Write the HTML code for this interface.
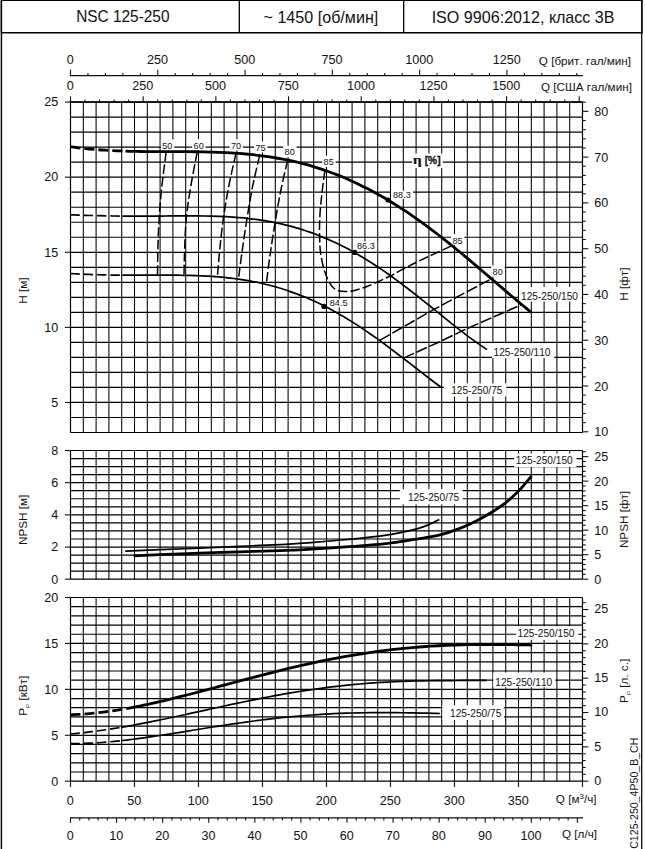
<!DOCTYPE html>
<html><head><meta charset="utf-8"><title>NSC 125-250</title>
<style>html,body{margin:0;padding:0;background:#fff;}body{width:645px;height:849px;overflow:hidden;font-family:"Liberation Sans",sans-serif;}svg{display:block}</style>
</head><body>
<svg width="645" height="849" viewBox="0 0 645 849" font-family="Liberation Sans, sans-serif" style="font-kerning:none">
<rect x="0" y="0" width="1" height="33" fill="#888"/>
<rect x="0" y="33" width="1" height="816" fill="#bbb"/>
<line x1="1.55" y1="0" x2="1.55" y2="849" stroke="#000" stroke-width="1.2" />
<line x1="641.9" y1="0" x2="641.9" y2="33.5" stroke="#000" stroke-width="1.7" />
<line x1="641.7" y1="33" x2="641.7" y2="849" stroke="#000" stroke-width="1.25" />
<line x1="1" y1="0.4" x2="642.7" y2="0.4" stroke="#000" stroke-width="1.2" />
<line x1="1" y1="32.8" x2="642.5" y2="32.8" stroke="#000" stroke-width="1.6" />
<line x1="239.3" y1="0" x2="239.3" y2="32.7" stroke="#000" stroke-width="1.3" />
<line x1="403.7" y1="0" x2="403.7" y2="32.7" stroke="#000" stroke-width="1.3" />
<text transform="translate(122.8,22.2) scale(0.94,1)" font-size="16.4" text-anchor="middle" fill="#111" >NSC 125-250</text>
<text transform="translate(320.9,23.4) scale(0.995,1)" font-size="16.2" text-anchor="middle" fill="#111" >~ 1450 [об/мин]</text>
<text transform="translate(523.1,23.1) scale(0.995,1)" font-size="16.2" text-anchor="middle" fill="#111" >ISO 9906:2012, класс 3В</text>
<g stroke="#000" stroke-width="1.2">
<line x1="70.5" y1="102.1" x2="70.5" y2="432.5" stroke-width="1.2"/>
<line x1="83.3" y1="102.1" x2="83.3" y2="432.5" stroke-width="1.05"/>
<line x1="96.1" y1="102.1" x2="96.1" y2="432.5" stroke-width="1.05"/>
<line x1="108.9" y1="102.1" x2="108.9" y2="432.5" stroke-width="1.05"/>
<line x1="121.7" y1="102.1" x2="121.7" y2="432.5" stroke-width="1.05"/>
<line x1="134.5" y1="102.1" x2="134.5" y2="432.5" stroke-width="1.05"/>
<line x1="147.3" y1="102.1" x2="147.3" y2="432.5" stroke-width="1.05"/>
<line x1="160.1" y1="102.1" x2="160.1" y2="432.5" stroke-width="1.05"/>
<line x1="172.9" y1="102.1" x2="172.9" y2="432.5" stroke-width="1.05"/>
<line x1="185.7" y1="102.1" x2="185.7" y2="432.5" stroke-width="1.05"/>
<line x1="198.5" y1="102.1" x2="198.5" y2="432.5" stroke-width="1.05"/>
<line x1="211.3" y1="102.1" x2="211.3" y2="432.5" stroke-width="1.05"/>
<line x1="224.1" y1="102.1" x2="224.1" y2="432.5" stroke-width="1.05"/>
<line x1="236.9" y1="102.1" x2="236.9" y2="432.5" stroke-width="1.05"/>
<line x1="249.7" y1="102.1" x2="249.7" y2="432.5" stroke-width="1.05"/>
<line x1="262.5" y1="102.1" x2="262.5" y2="432.5" stroke-width="1.05"/>
<line x1="275.3" y1="102.1" x2="275.3" y2="432.5" stroke-width="1.05"/>
<line x1="288.1" y1="102.1" x2="288.1" y2="432.5" stroke-width="1.05"/>
<line x1="300.9" y1="102.1" x2="300.9" y2="432.5" stroke-width="1.05"/>
<line x1="313.7" y1="102.1" x2="313.7" y2="432.5" stroke-width="1.05"/>
<line x1="326.5" y1="102.1" x2="326.5" y2="432.5" stroke-width="1.05"/>
<line x1="339.3" y1="102.1" x2="339.3" y2="432.5" stroke-width="1.05"/>
<line x1="352.1" y1="102.1" x2="352.1" y2="432.5" stroke-width="1.05"/>
<line x1="364.9" y1="102.1" x2="364.9" y2="432.5" stroke-width="1.05"/>
<line x1="377.7" y1="102.1" x2="377.7" y2="432.5" stroke-width="1.05"/>
<line x1="390.5" y1="102.1" x2="390.5" y2="432.5" stroke-width="1.05"/>
<line x1="403.3" y1="102.1" x2="403.3" y2="432.5" stroke-width="1.05"/>
<line x1="416.1" y1="102.1" x2="416.1" y2="432.5" stroke-width="1.05"/>
<line x1="428.9" y1="102.1" x2="428.9" y2="432.5" stroke-width="1.05"/>
<line x1="441.7" y1="102.1" x2="441.7" y2="432.5" stroke-width="1.05"/>
<line x1="454.5" y1="102.1" x2="454.5" y2="432.5" stroke-width="1.05"/>
<line x1="467.3" y1="102.1" x2="467.3" y2="432.5" stroke-width="1.05"/>
<line x1="480.1" y1="102.1" x2="480.1" y2="432.5" stroke-width="1.05"/>
<line x1="492.9" y1="102.1" x2="492.9" y2="432.5" stroke-width="1.05"/>
<line x1="505.7" y1="102.1" x2="505.7" y2="432.5" stroke-width="1.05"/>
<line x1="518.5" y1="102.1" x2="518.5" y2="432.5" stroke-width="1.05"/>
<line x1="531.3" y1="102.1" x2="531.3" y2="432.5" stroke-width="1.05"/>
<line x1="544.1" y1="102.1" x2="544.1" y2="432.5" stroke-width="1.05"/>
<line x1="556.9" y1="102.1" x2="556.9" y2="432.5" stroke-width="1.05"/>
<line x1="569.7" y1="102.1" x2="569.7" y2="432.5" stroke-width="1.05"/>
<line x1="582.5" y1="102.1" x2="582.5" y2="432.5" stroke-width="1.2"/>
<line x1="70.5" y1="102.1" x2="582.5" y2="102.1"/>
<line x1="70.5" y1="117.12" x2="582.5" y2="117.12"/>
<line x1="70.5" y1="132.14" x2="582.5" y2="132.14"/>
<line x1="70.5" y1="147.15" x2="582.5" y2="147.15"/>
<line x1="70.5" y1="162.17" x2="582.5" y2="162.17"/>
<line x1="70.5" y1="177.19" x2="582.5" y2="177.19"/>
<line x1="70.5" y1="192.21" x2="582.5" y2="192.21"/>
<line x1="70.5" y1="207.23" x2="582.5" y2="207.23"/>
<line x1="70.5" y1="222.25" x2="582.5" y2="222.25"/>
<line x1="70.5" y1="237.26" x2="582.5" y2="237.26"/>
<line x1="70.5" y1="252.28" x2="582.5" y2="252.28"/>
<line x1="70.5" y1="267.3" x2="582.5" y2="267.3"/>
<line x1="70.5" y1="282.32" x2="582.5" y2="282.32"/>
<line x1="70.5" y1="297.34" x2="582.5" y2="297.34"/>
<line x1="70.5" y1="312.35" x2="582.5" y2="312.35"/>
<line x1="70.5" y1="327.37" x2="582.5" y2="327.37"/>
<line x1="70.5" y1="342.39" x2="582.5" y2="342.39"/>
<line x1="70.5" y1="357.41" x2="582.5" y2="357.41"/>
<line x1="70.5" y1="372.43" x2="582.5" y2="372.43"/>
<line x1="70.5" y1="387.45" x2="582.5" y2="387.45"/>
<line x1="70.5" y1="402.46" x2="582.5" y2="402.46"/>
<line x1="70.5" y1="417.48" x2="582.5" y2="417.48"/>
<line x1="70.5" y1="432.5" x2="582.5" y2="432.5"/>
</g>
<g stroke="#000" stroke-width="1.2">
<line x1="70.5" y1="450.5" x2="70.5" y2="579.2" stroke-width="1.2"/>
<line x1="83.3" y1="450.5" x2="83.3" y2="579.2" stroke-width="1.05"/>
<line x1="96.1" y1="450.5" x2="96.1" y2="579.2" stroke-width="1.05"/>
<line x1="108.9" y1="450.5" x2="108.9" y2="579.2" stroke-width="1.05"/>
<line x1="121.7" y1="450.5" x2="121.7" y2="579.2" stroke-width="1.05"/>
<line x1="134.5" y1="450.5" x2="134.5" y2="579.2" stroke-width="1.05"/>
<line x1="147.3" y1="450.5" x2="147.3" y2="579.2" stroke-width="1.05"/>
<line x1="160.1" y1="450.5" x2="160.1" y2="579.2" stroke-width="1.05"/>
<line x1="172.9" y1="450.5" x2="172.9" y2="579.2" stroke-width="1.05"/>
<line x1="185.7" y1="450.5" x2="185.7" y2="579.2" stroke-width="1.05"/>
<line x1="198.5" y1="450.5" x2="198.5" y2="579.2" stroke-width="1.05"/>
<line x1="211.3" y1="450.5" x2="211.3" y2="579.2" stroke-width="1.05"/>
<line x1="224.1" y1="450.5" x2="224.1" y2="579.2" stroke-width="1.05"/>
<line x1="236.9" y1="450.5" x2="236.9" y2="579.2" stroke-width="1.05"/>
<line x1="249.7" y1="450.5" x2="249.7" y2="579.2" stroke-width="1.05"/>
<line x1="262.5" y1="450.5" x2="262.5" y2="579.2" stroke-width="1.05"/>
<line x1="275.3" y1="450.5" x2="275.3" y2="579.2" stroke-width="1.05"/>
<line x1="288.1" y1="450.5" x2="288.1" y2="579.2" stroke-width="1.05"/>
<line x1="300.9" y1="450.5" x2="300.9" y2="579.2" stroke-width="1.05"/>
<line x1="313.7" y1="450.5" x2="313.7" y2="579.2" stroke-width="1.05"/>
<line x1="326.5" y1="450.5" x2="326.5" y2="579.2" stroke-width="1.05"/>
<line x1="339.3" y1="450.5" x2="339.3" y2="579.2" stroke-width="1.05"/>
<line x1="352.1" y1="450.5" x2="352.1" y2="579.2" stroke-width="1.05"/>
<line x1="364.9" y1="450.5" x2="364.9" y2="579.2" stroke-width="1.05"/>
<line x1="377.7" y1="450.5" x2="377.7" y2="579.2" stroke-width="1.05"/>
<line x1="390.5" y1="450.5" x2="390.5" y2="579.2" stroke-width="1.05"/>
<line x1="403.3" y1="450.5" x2="403.3" y2="579.2" stroke-width="1.05"/>
<line x1="416.1" y1="450.5" x2="416.1" y2="579.2" stroke-width="1.05"/>
<line x1="428.9" y1="450.5" x2="428.9" y2="579.2" stroke-width="1.05"/>
<line x1="441.7" y1="450.5" x2="441.7" y2="579.2" stroke-width="1.05"/>
<line x1="454.5" y1="450.5" x2="454.5" y2="579.2" stroke-width="1.05"/>
<line x1="467.3" y1="450.5" x2="467.3" y2="579.2" stroke-width="1.05"/>
<line x1="480.1" y1="450.5" x2="480.1" y2="579.2" stroke-width="1.05"/>
<line x1="492.9" y1="450.5" x2="492.9" y2="579.2" stroke-width="1.05"/>
<line x1="505.7" y1="450.5" x2="505.7" y2="579.2" stroke-width="1.05"/>
<line x1="518.5" y1="450.5" x2="518.5" y2="579.2" stroke-width="1.05"/>
<line x1="531.3" y1="450.5" x2="531.3" y2="579.2" stroke-width="1.05"/>
<line x1="544.1" y1="450.5" x2="544.1" y2="579.2" stroke-width="1.05"/>
<line x1="556.9" y1="450.5" x2="556.9" y2="579.2" stroke-width="1.05"/>
<line x1="569.7" y1="450.5" x2="569.7" y2="579.2" stroke-width="1.05"/>
<line x1="582.5" y1="450.5" x2="582.5" y2="579.2" stroke-width="1.2"/>
<line x1="70.5" y1="450.5" x2="582.5" y2="450.5"/>
<line x1="70.5" y1="458.54" x2="582.5" y2="458.54"/>
<line x1="70.5" y1="466.59" x2="582.5" y2="466.59"/>
<line x1="70.5" y1="474.63" x2="582.5" y2="474.63"/>
<line x1="70.5" y1="482.68" x2="582.5" y2="482.68"/>
<line x1="70.5" y1="490.72" x2="582.5" y2="490.72"/>
<line x1="70.5" y1="498.76" x2="582.5" y2="498.76"/>
<line x1="70.5" y1="506.81" x2="582.5" y2="506.81"/>
<line x1="70.5" y1="514.85" x2="582.5" y2="514.85"/>
<line x1="70.5" y1="522.89" x2="582.5" y2="522.89"/>
<line x1="70.5" y1="530.94" x2="582.5" y2="530.94"/>
<line x1="70.5" y1="538.98" x2="582.5" y2="538.98"/>
<line x1="70.5" y1="547.03" x2="582.5" y2="547.03"/>
<line x1="70.5" y1="555.07" x2="582.5" y2="555.07"/>
<line x1="70.5" y1="563.11" x2="582.5" y2="563.11"/>
<line x1="70.5" y1="571.16" x2="582.5" y2="571.16"/>
<line x1="70.5" y1="579.2" x2="582.5" y2="579.2"/>
</g>
<g stroke="#000" stroke-width="1.2">
<line x1="70.5" y1="597.5" x2="70.5" y2="781.2" stroke-width="1.2"/>
<line x1="83.3" y1="597.5" x2="83.3" y2="781.2" stroke-width="1.05"/>
<line x1="96.1" y1="597.5" x2="96.1" y2="781.2" stroke-width="1.05"/>
<line x1="108.9" y1="597.5" x2="108.9" y2="781.2" stroke-width="1.05"/>
<line x1="121.7" y1="597.5" x2="121.7" y2="781.2" stroke-width="1.05"/>
<line x1="134.5" y1="597.5" x2="134.5" y2="781.2" stroke-width="1.05"/>
<line x1="147.3" y1="597.5" x2="147.3" y2="781.2" stroke-width="1.05"/>
<line x1="160.1" y1="597.5" x2="160.1" y2="781.2" stroke-width="1.05"/>
<line x1="172.9" y1="597.5" x2="172.9" y2="781.2" stroke-width="1.05"/>
<line x1="185.7" y1="597.5" x2="185.7" y2="781.2" stroke-width="1.05"/>
<line x1="198.5" y1="597.5" x2="198.5" y2="781.2" stroke-width="1.05"/>
<line x1="211.3" y1="597.5" x2="211.3" y2="781.2" stroke-width="1.05"/>
<line x1="224.1" y1="597.5" x2="224.1" y2="781.2" stroke-width="1.05"/>
<line x1="236.9" y1="597.5" x2="236.9" y2="781.2" stroke-width="1.05"/>
<line x1="249.7" y1="597.5" x2="249.7" y2="781.2" stroke-width="1.05"/>
<line x1="262.5" y1="597.5" x2="262.5" y2="781.2" stroke-width="1.05"/>
<line x1="275.3" y1="597.5" x2="275.3" y2="781.2" stroke-width="1.05"/>
<line x1="288.1" y1="597.5" x2="288.1" y2="781.2" stroke-width="1.05"/>
<line x1="300.9" y1="597.5" x2="300.9" y2="781.2" stroke-width="1.05"/>
<line x1="313.7" y1="597.5" x2="313.7" y2="781.2" stroke-width="1.05"/>
<line x1="326.5" y1="597.5" x2="326.5" y2="781.2" stroke-width="1.05"/>
<line x1="339.3" y1="597.5" x2="339.3" y2="781.2" stroke-width="1.05"/>
<line x1="352.1" y1="597.5" x2="352.1" y2="781.2" stroke-width="1.05"/>
<line x1="364.9" y1="597.5" x2="364.9" y2="781.2" stroke-width="1.05"/>
<line x1="377.7" y1="597.5" x2="377.7" y2="781.2" stroke-width="1.05"/>
<line x1="390.5" y1="597.5" x2="390.5" y2="781.2" stroke-width="1.05"/>
<line x1="403.3" y1="597.5" x2="403.3" y2="781.2" stroke-width="1.05"/>
<line x1="416.1" y1="597.5" x2="416.1" y2="781.2" stroke-width="1.05"/>
<line x1="428.9" y1="597.5" x2="428.9" y2="781.2" stroke-width="1.05"/>
<line x1="441.7" y1="597.5" x2="441.7" y2="781.2" stroke-width="1.05"/>
<line x1="454.5" y1="597.5" x2="454.5" y2="781.2" stroke-width="1.05"/>
<line x1="467.3" y1="597.5" x2="467.3" y2="781.2" stroke-width="1.05"/>
<line x1="480.1" y1="597.5" x2="480.1" y2="781.2" stroke-width="1.05"/>
<line x1="492.9" y1="597.5" x2="492.9" y2="781.2" stroke-width="1.05"/>
<line x1="505.7" y1="597.5" x2="505.7" y2="781.2" stroke-width="1.05"/>
<line x1="518.5" y1="597.5" x2="518.5" y2="781.2" stroke-width="1.05"/>
<line x1="531.3" y1="597.5" x2="531.3" y2="781.2" stroke-width="1.05"/>
<line x1="544.1" y1="597.5" x2="544.1" y2="781.2" stroke-width="1.05"/>
<line x1="556.9" y1="597.5" x2="556.9" y2="781.2" stroke-width="1.05"/>
<line x1="569.7" y1="597.5" x2="569.7" y2="781.2" stroke-width="1.05"/>
<line x1="582.5" y1="597.5" x2="582.5" y2="781.2" stroke-width="1.2"/>
<line x1="70.5" y1="597.5" x2="582.5" y2="597.5"/>
<line x1="70.5" y1="606.68" x2="582.5" y2="606.68"/>
<line x1="70.5" y1="615.87" x2="582.5" y2="615.87"/>
<line x1="70.5" y1="625.06" x2="582.5" y2="625.06"/>
<line x1="70.5" y1="634.24" x2="582.5" y2="634.24"/>
<line x1="70.5" y1="643.42" x2="582.5" y2="643.42"/>
<line x1="70.5" y1="652.61" x2="582.5" y2="652.61"/>
<line x1="70.5" y1="661.8" x2="582.5" y2="661.8"/>
<line x1="70.5" y1="670.98" x2="582.5" y2="670.98"/>
<line x1="70.5" y1="680.16" x2="582.5" y2="680.16"/>
<line x1="70.5" y1="689.35" x2="582.5" y2="689.35"/>
<line x1="70.5" y1="698.54" x2="582.5" y2="698.54"/>
<line x1="70.5" y1="707.72" x2="582.5" y2="707.72"/>
<line x1="70.5" y1="716.9" x2="582.5" y2="716.9"/>
<line x1="70.5" y1="726.09" x2="582.5" y2="726.09"/>
<line x1="70.5" y1="735.28" x2="582.5" y2="735.28"/>
<line x1="70.5" y1="744.46" x2="582.5" y2="744.46"/>
<line x1="70.5" y1="753.64" x2="582.5" y2="753.64"/>
<line x1="70.5" y1="762.83" x2="582.5" y2="762.83"/>
<line x1="70.5" y1="772.02" x2="582.5" y2="772.02"/>
<line x1="70.5" y1="781.2" x2="582.5" y2="781.2"/>
</g>
<rect x="160.8" y="139.4" width="13.4" height="11.2" fill="#fff"/>
<rect x="192.2" y="139.1" width="13.4" height="11.2" fill="#fff"/>
<rect x="229.5" y="139.3" width="13.4" height="11.2" fill="#fff"/>
<rect x="254.1" y="141.3" width="13.4" height="11.2" fill="#fff"/>
<rect x="283.2" y="145.8" width="13.4" height="11.2" fill="#fff"/>
<rect x="322.2" y="155.6" width="13.4" height="11.2" fill="#fff"/>
<rect x="391" y="190.7" width="22" height="8.2" fill="#fff"/>
<rect x="355.2" y="241.4" width="22" height="8.6" fill="#fff"/>
<rect x="328" y="298.8" width="22" height="8.6" fill="#fff"/>
<rect x="451" y="234" width="13.4" height="11.2" fill="#fff"/>
<rect x="491.2" y="265.4" width="13.4" height="11.2" fill="#fff"/>
<rect x="412.1" y="153.6" width="30.7" height="14.4" fill="#fff"/>
<rect x="519" y="286.9" width="62.7" height="14.6" fill="#fff"/>
<rect x="492" y="343.3" width="62.3" height="14.8" fill="#fff"/>
<rect x="444" y="383.3" width="62.5" height="13.2" fill="#fff"/>
<rect x="399.8" y="489.1" width="62.8" height="15.3" fill="#fff"/>
<rect x="514" y="453.5" width="62.4" height="13.5" fill="#fff"/>
<rect x="516.2" y="626.2" width="62.1" height="13.6" fill="#fff"/>
<rect x="493.3" y="672.6" width="62" height="14.6" fill="#fff"/>
<rect x="442.4" y="705.3" width="61.6" height="14.7" fill="#fff"/>
<line x1="70" y1="75.7" x2="583" y2="75.7" stroke="#111" stroke-width="1.2" />
<line x1="70.5" y1="75.7" x2="70.5" y2="69.7" stroke="#111" stroke-width="1.1" />
<text transform="translate(70.2,64.3) scale(1.05,1)" font-size="12" text-anchor="middle" fill="#111" >0</text>
<line x1="87.96" y1="75.7" x2="87.96" y2="72.9" stroke="#111" stroke-width="1.1" />
<line x1="105.41" y1="75.7" x2="105.41" y2="72.9" stroke="#111" stroke-width="1.1" />
<line x1="122.87" y1="75.7" x2="122.87" y2="72.9" stroke="#111" stroke-width="1.1" />
<line x1="140.33" y1="75.7" x2="140.33" y2="72.9" stroke="#111" stroke-width="1.1" />
<line x1="157.79" y1="75.7" x2="157.79" y2="69.7" stroke="#111" stroke-width="1.1" />
<text transform="translate(157.49,64.3) scale(1.05,1)" font-size="12" text-anchor="middle" fill="#111" >250</text>
<line x1="175.24" y1="75.7" x2="175.24" y2="72.9" stroke="#111" stroke-width="1.1" />
<line x1="192.7" y1="75.7" x2="192.7" y2="72.9" stroke="#111" stroke-width="1.1" />
<line x1="210.16" y1="75.7" x2="210.16" y2="72.9" stroke="#111" stroke-width="1.1" />
<line x1="227.61" y1="75.7" x2="227.61" y2="72.9" stroke="#111" stroke-width="1.1" />
<line x1="245.07" y1="75.7" x2="245.07" y2="69.7" stroke="#111" stroke-width="1.1" />
<text transform="translate(244.77,64.3) scale(1.05,1)" font-size="12" text-anchor="middle" fill="#111" >500</text>
<line x1="262.53" y1="75.7" x2="262.53" y2="72.9" stroke="#111" stroke-width="1.1" />
<line x1="279.98" y1="75.7" x2="279.98" y2="72.9" stroke="#111" stroke-width="1.1" />
<line x1="297.44" y1="75.7" x2="297.44" y2="72.9" stroke="#111" stroke-width="1.1" />
<line x1="314.9" y1="75.7" x2="314.9" y2="72.9" stroke="#111" stroke-width="1.1" />
<line x1="332.36" y1="75.7" x2="332.36" y2="69.7" stroke="#111" stroke-width="1.1" />
<text transform="translate(332.06,64.3) scale(1.05,1)" font-size="12" text-anchor="middle" fill="#111" >750</text>
<line x1="349.81" y1="75.7" x2="349.81" y2="72.9" stroke="#111" stroke-width="1.1" />
<line x1="367.27" y1="75.7" x2="367.27" y2="72.9" stroke="#111" stroke-width="1.1" />
<line x1="384.73" y1="75.7" x2="384.73" y2="72.9" stroke="#111" stroke-width="1.1" />
<line x1="402.18" y1="75.7" x2="402.18" y2="72.9" stroke="#111" stroke-width="1.1" />
<line x1="419.64" y1="75.7" x2="419.64" y2="69.7" stroke="#111" stroke-width="1.1" />
<text transform="translate(419.34,64.3) scale(1.05,1)" font-size="12" text-anchor="middle" fill="#111" >1000</text>
<line x1="437.1" y1="75.7" x2="437.1" y2="72.9" stroke="#111" stroke-width="1.1" />
<line x1="454.55" y1="75.7" x2="454.55" y2="72.9" stroke="#111" stroke-width="1.1" />
<line x1="472.01" y1="75.7" x2="472.01" y2="72.9" stroke="#111" stroke-width="1.1" />
<line x1="489.47" y1="75.7" x2="489.47" y2="72.9" stroke="#111" stroke-width="1.1" />
<line x1="506.93" y1="75.7" x2="506.93" y2="69.7" stroke="#111" stroke-width="1.1" />
<text transform="translate(506.63,64.3) scale(1.05,1)" font-size="12" text-anchor="middle" fill="#111" >1250</text>
<line x1="524.38" y1="75.7" x2="524.38" y2="72.9" stroke="#111" stroke-width="1.1" />
<line x1="541.84" y1="75.7" x2="541.84" y2="72.9" stroke="#111" stroke-width="1.1" />
<line x1="559.3" y1="75.7" x2="559.3" y2="72.9" stroke="#111" stroke-width="1.1" />
<line x1="576.75" y1="75.7" x2="576.75" y2="72.9" stroke="#111" stroke-width="1.1" />
<line x1="69.9" y1="101.95" x2="583.1" y2="101.95" stroke="#000" stroke-width="1.5" />
<line x1="70.5" y1="102.1" x2="70.5" y2="96.3" stroke="#111" stroke-width="1.1" />
<text transform="translate(70.2,90.3) scale(1.05,1)" font-size="12" text-anchor="middle" fill="#111" >0</text>
<line x1="85.04" y1="102.1" x2="85.04" y2="99.5" stroke="#111" stroke-width="1.1" />
<line x1="99.57" y1="102.1" x2="99.57" y2="99.5" stroke="#111" stroke-width="1.1" />
<line x1="114.11" y1="102.1" x2="114.11" y2="99.5" stroke="#111" stroke-width="1.1" />
<line x1="128.64" y1="102.1" x2="128.64" y2="99.5" stroke="#111" stroke-width="1.1" />
<line x1="143.18" y1="102.1" x2="143.18" y2="96.3" stroke="#111" stroke-width="1.1" />
<text transform="translate(142.88,90.3) scale(1.05,1)" font-size="12" text-anchor="middle" fill="#111" >250</text>
<line x1="157.72" y1="102.1" x2="157.72" y2="99.5" stroke="#111" stroke-width="1.1" />
<line x1="172.25" y1="102.1" x2="172.25" y2="99.5" stroke="#111" stroke-width="1.1" />
<line x1="186.79" y1="102.1" x2="186.79" y2="99.5" stroke="#111" stroke-width="1.1" />
<line x1="201.32" y1="102.1" x2="201.32" y2="99.5" stroke="#111" stroke-width="1.1" />
<line x1="215.86" y1="102.1" x2="215.86" y2="96.3" stroke="#111" stroke-width="1.1" />
<text transform="translate(215.56,90.3) scale(1.05,1)" font-size="12" text-anchor="middle" fill="#111" >500</text>
<line x1="230.4" y1="102.1" x2="230.4" y2="99.5" stroke="#111" stroke-width="1.1" />
<line x1="244.93" y1="102.1" x2="244.93" y2="99.5" stroke="#111" stroke-width="1.1" />
<line x1="259.47" y1="102.1" x2="259.47" y2="99.5" stroke="#111" stroke-width="1.1" />
<line x1="274" y1="102.1" x2="274" y2="99.5" stroke="#111" stroke-width="1.1" />
<line x1="288.54" y1="102.1" x2="288.54" y2="96.3" stroke="#111" stroke-width="1.1" />
<text transform="translate(288.24,90.3) scale(1.05,1)" font-size="12" text-anchor="middle" fill="#111" >750</text>
<line x1="303.08" y1="102.1" x2="303.08" y2="99.5" stroke="#111" stroke-width="1.1" />
<line x1="317.61" y1="102.1" x2="317.61" y2="99.5" stroke="#111" stroke-width="1.1" />
<line x1="332.15" y1="102.1" x2="332.15" y2="99.5" stroke="#111" stroke-width="1.1" />
<line x1="346.68" y1="102.1" x2="346.68" y2="99.5" stroke="#111" stroke-width="1.1" />
<line x1="361.22" y1="102.1" x2="361.22" y2="96.3" stroke="#111" stroke-width="1.1" />
<text transform="translate(360.92,90.3) scale(1.05,1)" font-size="12" text-anchor="middle" fill="#111" >1000</text>
<line x1="375.76" y1="102.1" x2="375.76" y2="99.5" stroke="#111" stroke-width="1.1" />
<line x1="390.29" y1="102.1" x2="390.29" y2="99.5" stroke="#111" stroke-width="1.1" />
<line x1="404.83" y1="102.1" x2="404.83" y2="99.5" stroke="#111" stroke-width="1.1" />
<line x1="419.36" y1="102.1" x2="419.36" y2="99.5" stroke="#111" stroke-width="1.1" />
<line x1="433.9" y1="102.1" x2="433.9" y2="96.3" stroke="#111" stroke-width="1.1" />
<text transform="translate(433.6,90.3) scale(1.05,1)" font-size="12" text-anchor="middle" fill="#111" >1250</text>
<line x1="448.44" y1="102.1" x2="448.44" y2="99.5" stroke="#111" stroke-width="1.1" />
<line x1="462.97" y1="102.1" x2="462.97" y2="99.5" stroke="#111" stroke-width="1.1" />
<line x1="477.51" y1="102.1" x2="477.51" y2="99.5" stroke="#111" stroke-width="1.1" />
<line x1="492.04" y1="102.1" x2="492.04" y2="99.5" stroke="#111" stroke-width="1.1" />
<line x1="506.58" y1="102.1" x2="506.58" y2="96.3" stroke="#111" stroke-width="1.1" />
<text transform="translate(506.28,90.3) scale(1.05,1)" font-size="12" text-anchor="middle" fill="#111" >1500</text>
<line x1="521.12" y1="102.1" x2="521.12" y2="99.5" stroke="#111" stroke-width="1.1" />
<line x1="535.65" y1="102.1" x2="535.65" y2="99.5" stroke="#111" stroke-width="1.1" />
<line x1="550.19" y1="102.1" x2="550.19" y2="99.5" stroke="#111" stroke-width="1.1" />
<line x1="564.72" y1="102.1" x2="564.72" y2="99.5" stroke="#111" stroke-width="1.1" />
<line x1="579.26" y1="102.1" x2="579.26" y2="96.3" stroke="#111" stroke-width="1.1" />
<text transform="translate(538.8,64.8) scale(1.064,1)" font-size="11" text-anchor="start" fill="#111" >Q [брит. гал/мин]</text>
<text transform="translate(541,90.9) scale(1.064,1)" font-size="11" text-anchor="start" fill="#111" >Q [США гал/мин]</text>
<line x1="64.9" y1="102.1" x2="70.5" y2="102.1" stroke="#111" stroke-width="1.1" />
<text transform="translate(58.2,106.4) scale(1.05,1)" font-size="12" text-anchor="end" fill="#111" >25</text>
<line x1="64.9" y1="177.19" x2="70.5" y2="177.19" stroke="#111" stroke-width="1.1" />
<text transform="translate(58.2,181.49) scale(1.05,1)" font-size="12" text-anchor="end" fill="#111" >20</text>
<line x1="64.9" y1="252.28" x2="70.5" y2="252.28" stroke="#111" stroke-width="1.1" />
<text transform="translate(58.2,256.58) scale(1.05,1)" font-size="12" text-anchor="end" fill="#111" >15</text>
<line x1="64.9" y1="327.37" x2="70.5" y2="327.37" stroke="#111" stroke-width="1.1" />
<text transform="translate(58.2,331.67) scale(1.05,1)" font-size="12" text-anchor="end" fill="#111" >10</text>
<line x1="64.9" y1="402.46" x2="70.5" y2="402.46" stroke="#111" stroke-width="1.1" />
<text transform="translate(58.2,406.76) scale(1.05,1)" font-size="12" text-anchor="end" fill="#111" >5</text>
<line x1="64.9" y1="450.5" x2="70.5" y2="450.5" stroke="#111" stroke-width="1.1" />
<text transform="translate(58.2,454.8) scale(1.05,1)" font-size="12" text-anchor="end" fill="#111" >8</text>
<line x1="64.9" y1="482.68" x2="70.5" y2="482.68" stroke="#111" stroke-width="1.1" />
<text transform="translate(58.2,486.98) scale(1.05,1)" font-size="12" text-anchor="end" fill="#111" >6</text>
<line x1="64.9" y1="514.85" x2="70.5" y2="514.85" stroke="#111" stroke-width="1.1" />
<text transform="translate(58.2,519.15) scale(1.05,1)" font-size="12" text-anchor="end" fill="#111" >4</text>
<line x1="64.9" y1="547.03" x2="70.5" y2="547.03" stroke="#111" stroke-width="1.1" />
<text transform="translate(58.2,551.33) scale(1.05,1)" font-size="12" text-anchor="end" fill="#111" >2</text>
<line x1="64.9" y1="579.2" x2="70.5" y2="579.2" stroke="#111" stroke-width="1.1" />
<text transform="translate(58.2,583.5) scale(1.05,1)" font-size="12" text-anchor="end" fill="#111" >0</text>
<line x1="64.9" y1="597.5" x2="70.5" y2="597.5" stroke="#111" stroke-width="1.1" />
<text transform="translate(58.2,601.8) scale(1.05,1)" font-size="12" text-anchor="end" fill="#111" >20</text>
<line x1="64.9" y1="643.42" x2="70.5" y2="643.42" stroke="#111" stroke-width="1.1" />
<text transform="translate(58.2,647.72) scale(1.05,1)" font-size="12" text-anchor="end" fill="#111" >15</text>
<line x1="64.9" y1="689.35" x2="70.5" y2="689.35" stroke="#111" stroke-width="1.1" />
<text transform="translate(58.2,693.65) scale(1.05,1)" font-size="12" text-anchor="end" fill="#111" >10</text>
<line x1="64.9" y1="735.28" x2="70.5" y2="735.28" stroke="#111" stroke-width="1.1" />
<text transform="translate(58.2,739.58) scale(1.05,1)" font-size="12" text-anchor="end" fill="#111" >5</text>
<line x1="64.9" y1="781.2" x2="70.5" y2="781.2" stroke="#111" stroke-width="1.1" />
<text transform="translate(58.2,785.5) scale(1.05,1)" font-size="12" text-anchor="end" fill="#111" >0</text>
<text transform="translate(26.8,290.7) rotate(-90) scale(1.064,1)" font-size="11" text-anchor="middle" fill="#111" >H [м]</text>
<text transform="translate(26.8,519.9) rotate(-90) scale(1.064,1)" font-size="11" text-anchor="middle" fill="#111" >NPSH [м]</text>
<text transform="translate(26.8,695.8) rotate(-90) scale(1.064,1)" font-size="11" text-anchor="middle" fill="#111" >P<tspan font-size="5.8" dy="3.6">P</tspan><tspan dy="-3.6"> [кВт]</tspan></text>
<line x1="582.5" y1="431.78" x2="588.3" y2="431.78" stroke="#111" stroke-width="1.1" />
<text transform="translate(594.3,436.28) scale(1.05,1)" font-size="12" text-anchor="start" fill="#111" >10</text>
<line x1="582.5" y1="422.62" x2="585.7" y2="422.62" stroke="#111" stroke-width="1.1" />
<line x1="582.5" y1="413.47" x2="585.7" y2="413.47" stroke="#111" stroke-width="1.1" />
<line x1="582.5" y1="404.31" x2="585.7" y2="404.31" stroke="#111" stroke-width="1.1" />
<line x1="582.5" y1="395.16" x2="585.7" y2="395.16" stroke="#111" stroke-width="1.1" />
<line x1="582.5" y1="386" x2="588.3" y2="386" stroke="#111" stroke-width="1.1" />
<text transform="translate(594.3,390.5) scale(1.05,1)" font-size="12" text-anchor="start" fill="#111" >20</text>
<line x1="582.5" y1="376.85" x2="585.7" y2="376.85" stroke="#111" stroke-width="1.1" />
<line x1="582.5" y1="367.69" x2="585.7" y2="367.69" stroke="#111" stroke-width="1.1" />
<line x1="582.5" y1="358.54" x2="585.7" y2="358.54" stroke="#111" stroke-width="1.1" />
<line x1="582.5" y1="349.38" x2="585.7" y2="349.38" stroke="#111" stroke-width="1.1" />
<line x1="582.5" y1="340.23" x2="588.3" y2="340.23" stroke="#111" stroke-width="1.1" />
<text transform="translate(594.3,344.73) scale(1.05,1)" font-size="12" text-anchor="start" fill="#111" >30</text>
<line x1="582.5" y1="331.07" x2="585.7" y2="331.07" stroke="#111" stroke-width="1.1" />
<line x1="582.5" y1="321.92" x2="585.7" y2="321.92" stroke="#111" stroke-width="1.1" />
<line x1="582.5" y1="312.76" x2="585.7" y2="312.76" stroke="#111" stroke-width="1.1" />
<line x1="582.5" y1="303.61" x2="585.7" y2="303.61" stroke="#111" stroke-width="1.1" />
<line x1="582.5" y1="294.45" x2="588.3" y2="294.45" stroke="#111" stroke-width="1.1" />
<text transform="translate(594.3,298.95) scale(1.05,1)" font-size="12" text-anchor="start" fill="#111" >40</text>
<line x1="582.5" y1="285.3" x2="585.7" y2="285.3" stroke="#111" stroke-width="1.1" />
<line x1="582.5" y1="276.14" x2="585.7" y2="276.14" stroke="#111" stroke-width="1.1" />
<line x1="582.5" y1="266.99" x2="585.7" y2="266.99" stroke="#111" stroke-width="1.1" />
<line x1="582.5" y1="257.83" x2="585.7" y2="257.83" stroke="#111" stroke-width="1.1" />
<line x1="582.5" y1="248.68" x2="588.3" y2="248.68" stroke="#111" stroke-width="1.1" />
<text transform="translate(594.3,253.18) scale(1.05,1)" font-size="12" text-anchor="start" fill="#111" >50</text>
<line x1="582.5" y1="239.52" x2="585.7" y2="239.52" stroke="#111" stroke-width="1.1" />
<line x1="582.5" y1="230.37" x2="585.7" y2="230.37" stroke="#111" stroke-width="1.1" />
<line x1="582.5" y1="221.21" x2="585.7" y2="221.21" stroke="#111" stroke-width="1.1" />
<line x1="582.5" y1="212.06" x2="585.7" y2="212.06" stroke="#111" stroke-width="1.1" />
<line x1="582.5" y1="202.9" x2="588.3" y2="202.9" stroke="#111" stroke-width="1.1" />
<text transform="translate(594.3,207.4) scale(1.05,1)" font-size="12" text-anchor="start" fill="#111" >60</text>
<line x1="582.5" y1="193.75" x2="585.7" y2="193.75" stroke="#111" stroke-width="1.1" />
<line x1="582.5" y1="184.59" x2="585.7" y2="184.59" stroke="#111" stroke-width="1.1" />
<line x1="582.5" y1="175.44" x2="585.7" y2="175.44" stroke="#111" stroke-width="1.1" />
<line x1="582.5" y1="166.28" x2="585.7" y2="166.28" stroke="#111" stroke-width="1.1" />
<line x1="582.5" y1="157.13" x2="588.3" y2="157.13" stroke="#111" stroke-width="1.1" />
<text transform="translate(594.3,161.63) scale(1.05,1)" font-size="12" text-anchor="start" fill="#111" >70</text>
<line x1="582.5" y1="147.97" x2="585.7" y2="147.97" stroke="#111" stroke-width="1.1" />
<line x1="582.5" y1="138.82" x2="585.7" y2="138.82" stroke="#111" stroke-width="1.1" />
<line x1="582.5" y1="129.66" x2="585.7" y2="129.66" stroke="#111" stroke-width="1.1" />
<line x1="582.5" y1="120.51" x2="585.7" y2="120.51" stroke="#111" stroke-width="1.1" />
<line x1="582.5" y1="111.35" x2="588.3" y2="111.35" stroke="#111" stroke-width="1.1" />
<text transform="translate(594.3,115.85) scale(1.05,1)" font-size="12" text-anchor="start" fill="#111" >80</text>
<line x1="582.5" y1="102.2" x2="585.7" y2="102.2" stroke="#111" stroke-width="1.1" />
<line x1="582.5" y1="579.2" x2="588.3" y2="579.2" stroke="#111" stroke-width="1.1" />
<text transform="translate(594.3,583.7) scale(1.05,1)" font-size="12" text-anchor="start" fill="#111" >0</text>
<line x1="582.5" y1="574.3" x2="585.7" y2="574.3" stroke="#111" stroke-width="1.1" />
<line x1="582.5" y1="569.39" x2="585.7" y2="569.39" stroke="#111" stroke-width="1.1" />
<line x1="582.5" y1="564.49" x2="585.7" y2="564.49" stroke="#111" stroke-width="1.1" />
<line x1="582.5" y1="559.59" x2="585.7" y2="559.59" stroke="#111" stroke-width="1.1" />
<line x1="582.5" y1="554.68" x2="588.3" y2="554.68" stroke="#111" stroke-width="1.1" />
<text transform="translate(594.3,559.18) scale(1.05,1)" font-size="12" text-anchor="start" fill="#111" >5</text>
<line x1="582.5" y1="549.78" x2="585.7" y2="549.78" stroke="#111" stroke-width="1.1" />
<line x1="582.5" y1="544.88" x2="585.7" y2="544.88" stroke="#111" stroke-width="1.1" />
<line x1="582.5" y1="539.97" x2="585.7" y2="539.97" stroke="#111" stroke-width="1.1" />
<line x1="582.5" y1="535.07" x2="585.7" y2="535.07" stroke="#111" stroke-width="1.1" />
<line x1="582.5" y1="530.17" x2="588.3" y2="530.17" stroke="#111" stroke-width="1.1" />
<text transform="translate(594.3,534.67) scale(1.05,1)" font-size="12" text-anchor="start" fill="#111" >10</text>
<line x1="582.5" y1="525.26" x2="585.7" y2="525.26" stroke="#111" stroke-width="1.1" />
<line x1="582.5" y1="520.36" x2="585.7" y2="520.36" stroke="#111" stroke-width="1.1" />
<line x1="582.5" y1="515.45" x2="585.7" y2="515.45" stroke="#111" stroke-width="1.1" />
<line x1="582.5" y1="510.55" x2="585.7" y2="510.55" stroke="#111" stroke-width="1.1" />
<line x1="582.5" y1="505.65" x2="588.3" y2="505.65" stroke="#111" stroke-width="1.1" />
<text transform="translate(594.3,510.15) scale(1.05,1)" font-size="12" text-anchor="start" fill="#111" >15</text>
<line x1="582.5" y1="500.74" x2="585.7" y2="500.74" stroke="#111" stroke-width="1.1" />
<line x1="582.5" y1="495.84" x2="585.7" y2="495.84" stroke="#111" stroke-width="1.1" />
<line x1="582.5" y1="490.94" x2="585.7" y2="490.94" stroke="#111" stroke-width="1.1" />
<line x1="582.5" y1="486.03" x2="585.7" y2="486.03" stroke="#111" stroke-width="1.1" />
<line x1="582.5" y1="481.13" x2="588.3" y2="481.13" stroke="#111" stroke-width="1.1" />
<text transform="translate(594.3,485.63) scale(1.05,1)" font-size="12" text-anchor="start" fill="#111" >20</text>
<line x1="582.5" y1="476.23" x2="585.7" y2="476.23" stroke="#111" stroke-width="1.1" />
<line x1="582.5" y1="471.32" x2="585.7" y2="471.32" stroke="#111" stroke-width="1.1" />
<line x1="582.5" y1="466.42" x2="585.7" y2="466.42" stroke="#111" stroke-width="1.1" />
<line x1="582.5" y1="461.52" x2="585.7" y2="461.52" stroke="#111" stroke-width="1.1" />
<line x1="582.5" y1="456.61" x2="588.3" y2="456.61" stroke="#111" stroke-width="1.1" />
<text transform="translate(594.3,461.11) scale(1.05,1)" font-size="12" text-anchor="start" fill="#111" >25</text>
<line x1="582.5" y1="451.71" x2="585.7" y2="451.71" stroke="#111" stroke-width="1.1" />
<line x1="582.5" y1="781.2" x2="588.3" y2="781.2" stroke="#111" stroke-width="1.1" />
<text transform="translate(594.3,785.1) scale(1.05,1)" font-size="12" text-anchor="start" fill="#111" >0</text>
<line x1="582.5" y1="774.33" x2="585.7" y2="774.33" stroke="#111" stroke-width="1.1" />
<line x1="582.5" y1="767.47" x2="585.7" y2="767.47" stroke="#111" stroke-width="1.1" />
<line x1="582.5" y1="760.6" x2="585.7" y2="760.6" stroke="#111" stroke-width="1.1" />
<line x1="582.5" y1="753.73" x2="585.7" y2="753.73" stroke="#111" stroke-width="1.1" />
<line x1="582.5" y1="746.87" x2="588.3" y2="746.87" stroke="#111" stroke-width="1.1" />
<text transform="translate(594.3,750.76) scale(1.05,1)" font-size="12" text-anchor="start" fill="#111" >5</text>
<line x1="582.5" y1="740" x2="585.7" y2="740" stroke="#111" stroke-width="1.1" />
<line x1="582.5" y1="733.13" x2="585.7" y2="733.13" stroke="#111" stroke-width="1.1" />
<line x1="582.5" y1="726.26" x2="585.7" y2="726.26" stroke="#111" stroke-width="1.1" />
<line x1="582.5" y1="719.4" x2="585.7" y2="719.4" stroke="#111" stroke-width="1.1" />
<line x1="582.5" y1="712.53" x2="588.3" y2="712.53" stroke="#111" stroke-width="1.1" />
<text transform="translate(594.3,716.43) scale(1.05,1)" font-size="12" text-anchor="start" fill="#111" >10</text>
<line x1="582.5" y1="705.66" x2="585.7" y2="705.66" stroke="#111" stroke-width="1.1" />
<line x1="582.5" y1="698.8" x2="585.7" y2="698.8" stroke="#111" stroke-width="1.1" />
<line x1="582.5" y1="691.93" x2="585.7" y2="691.93" stroke="#111" stroke-width="1.1" />
<line x1="582.5" y1="685.06" x2="585.7" y2="685.06" stroke="#111" stroke-width="1.1" />
<line x1="582.5" y1="678.2" x2="588.3" y2="678.2" stroke="#111" stroke-width="1.1" />
<text transform="translate(594.3,682.1) scale(1.05,1)" font-size="12" text-anchor="start" fill="#111" >15</text>
<line x1="582.5" y1="671.33" x2="585.7" y2="671.33" stroke="#111" stroke-width="1.1" />
<line x1="582.5" y1="664.46" x2="585.7" y2="664.46" stroke="#111" stroke-width="1.1" />
<line x1="582.5" y1="657.59" x2="585.7" y2="657.59" stroke="#111" stroke-width="1.1" />
<line x1="582.5" y1="650.73" x2="585.7" y2="650.73" stroke="#111" stroke-width="1.1" />
<line x1="582.5" y1="643.86" x2="588.3" y2="643.86" stroke="#111" stroke-width="1.1" />
<text transform="translate(594.3,647.76) scale(1.05,1)" font-size="12" text-anchor="start" fill="#111" >20</text>
<line x1="582.5" y1="636.99" x2="585.7" y2="636.99" stroke="#111" stroke-width="1.1" />
<line x1="582.5" y1="630.13" x2="585.7" y2="630.13" stroke="#111" stroke-width="1.1" />
<line x1="582.5" y1="623.26" x2="585.7" y2="623.26" stroke="#111" stroke-width="1.1" />
<line x1="582.5" y1="616.39" x2="585.7" y2="616.39" stroke="#111" stroke-width="1.1" />
<line x1="582.5" y1="609.53" x2="588.3" y2="609.53" stroke="#111" stroke-width="1.1" />
<text transform="translate(594.3,613.43) scale(1.05,1)" font-size="12" text-anchor="start" fill="#111" >25</text>
<line x1="582.5" y1="602.66" x2="585.7" y2="602.66" stroke="#111" stroke-width="1.1" />
<text transform="translate(627.8,284.1) rotate(-90) scale(1.064,1)" font-size="11" text-anchor="middle" fill="#111" >H [фт]</text>
<text transform="translate(627.8,519.5) rotate(-90) scale(1.064,1)" font-size="11" text-anchor="middle" fill="#111" >NPSH [фт]</text>
<text transform="translate(627.8,680.9) rotate(-90) scale(1.064,1)" font-size="11" text-anchor="middle" fill="#111" >P<tspan font-size="5.8" dy="3.6">P</tspan><tspan dy="-3.6"> [л. с.]</tspan></text>
<line x1="70.5" y1="781.2" x2="70.5" y2="787.1" stroke="#111" stroke-width="1.1" />
<text transform="translate(70.2,805.1) scale(1.05,1)" font-size="12" text-anchor="middle" fill="#111" >0</text>
<line x1="134.5" y1="781.2" x2="134.5" y2="787.1" stroke="#111" stroke-width="1.1" />
<text transform="translate(134.2,805.1) scale(1.05,1)" font-size="12" text-anchor="middle" fill="#111" >50</text>
<line x1="198.5" y1="781.2" x2="198.5" y2="787.1" stroke="#111" stroke-width="1.1" />
<text transform="translate(198.2,805.1) scale(1.05,1)" font-size="12" text-anchor="middle" fill="#111" >100</text>
<line x1="262.5" y1="781.2" x2="262.5" y2="787.1" stroke="#111" stroke-width="1.1" />
<text transform="translate(262.2,805.1) scale(1.05,1)" font-size="12" text-anchor="middle" fill="#111" >150</text>
<line x1="326.5" y1="781.2" x2="326.5" y2="787.1" stroke="#111" stroke-width="1.1" />
<text transform="translate(326.2,805.1) scale(1.05,1)" font-size="12" text-anchor="middle" fill="#111" >200</text>
<line x1="390.5" y1="781.2" x2="390.5" y2="787.1" stroke="#111" stroke-width="1.1" />
<text transform="translate(390.2,805.1) scale(1.05,1)" font-size="12" text-anchor="middle" fill="#111" >250</text>
<line x1="454.5" y1="781.2" x2="454.5" y2="787.1" stroke="#111" stroke-width="1.1" />
<text transform="translate(454.2,805.1) scale(1.05,1)" font-size="12" text-anchor="middle" fill="#111" >300</text>
<line x1="518.5" y1="781.2" x2="518.5" y2="787.1" stroke="#111" stroke-width="1.1" />
<text transform="translate(518.2,805.1) scale(1.05,1)" font-size="12" text-anchor="middle" fill="#111" >350</text>
<line x1="582.5" y1="781.2" x2="582.5" y2="787.1" stroke="#111" stroke-width="1.1" />
<text transform="translate(555.8,803.2) scale(1.064,1)" font-size="11" text-anchor="start" fill="#111" >Q [м<tspan font-size="7.5" dy="-4">3</tspan><tspan dy="4">/ч]</tspan></text>
<line x1="70" y1="817.8" x2="583" y2="817.8" stroke="#111" stroke-width="1.2" />
<line x1="70.5" y1="817.8" x2="70.5" y2="822.8" stroke="#111" stroke-width="1.1" />
<text transform="translate(70.2,840.2) scale(1.05,1)" font-size="12" text-anchor="middle" fill="#111" >0</text>
<line x1="79.72" y1="817.8" x2="79.72" y2="820.4" stroke="#111" stroke-width="1.1" />
<line x1="88.93" y1="817.8" x2="88.93" y2="820.4" stroke="#111" stroke-width="1.1" />
<line x1="98.15" y1="817.8" x2="98.15" y2="820.4" stroke="#111" stroke-width="1.1" />
<line x1="107.36" y1="817.8" x2="107.36" y2="820.4" stroke="#111" stroke-width="1.1" />
<line x1="116.58" y1="817.8" x2="116.58" y2="822.8" stroke="#111" stroke-width="1.1" />
<text transform="translate(116.28,840.2) scale(1.05,1)" font-size="12" text-anchor="middle" fill="#111" >10</text>
<line x1="125.8" y1="817.8" x2="125.8" y2="820.4" stroke="#111" stroke-width="1.1" />
<line x1="135.01" y1="817.8" x2="135.01" y2="820.4" stroke="#111" stroke-width="1.1" />
<line x1="144.23" y1="817.8" x2="144.23" y2="820.4" stroke="#111" stroke-width="1.1" />
<line x1="153.44" y1="817.8" x2="153.44" y2="820.4" stroke="#111" stroke-width="1.1" />
<line x1="162.66" y1="817.8" x2="162.66" y2="822.8" stroke="#111" stroke-width="1.1" />
<text transform="translate(162.36,840.2) scale(1.05,1)" font-size="12" text-anchor="middle" fill="#111" >20</text>
<line x1="171.88" y1="817.8" x2="171.88" y2="820.4" stroke="#111" stroke-width="1.1" />
<line x1="181.09" y1="817.8" x2="181.09" y2="820.4" stroke="#111" stroke-width="1.1" />
<line x1="190.31" y1="817.8" x2="190.31" y2="820.4" stroke="#111" stroke-width="1.1" />
<line x1="199.52" y1="817.8" x2="199.52" y2="820.4" stroke="#111" stroke-width="1.1" />
<line x1="208.74" y1="817.8" x2="208.74" y2="822.8" stroke="#111" stroke-width="1.1" />
<text transform="translate(208.44,840.2) scale(1.05,1)" font-size="12" text-anchor="middle" fill="#111" >30</text>
<line x1="217.96" y1="817.8" x2="217.96" y2="820.4" stroke="#111" stroke-width="1.1" />
<line x1="227.17" y1="817.8" x2="227.17" y2="820.4" stroke="#111" stroke-width="1.1" />
<line x1="236.39" y1="817.8" x2="236.39" y2="820.4" stroke="#111" stroke-width="1.1" />
<line x1="245.6" y1="817.8" x2="245.6" y2="820.4" stroke="#111" stroke-width="1.1" />
<line x1="254.82" y1="817.8" x2="254.82" y2="822.8" stroke="#111" stroke-width="1.1" />
<text transform="translate(254.52,840.2) scale(1.05,1)" font-size="12" text-anchor="middle" fill="#111" >40</text>
<line x1="264.04" y1="817.8" x2="264.04" y2="820.4" stroke="#111" stroke-width="1.1" />
<line x1="273.25" y1="817.8" x2="273.25" y2="820.4" stroke="#111" stroke-width="1.1" />
<line x1="282.47" y1="817.8" x2="282.47" y2="820.4" stroke="#111" stroke-width="1.1" />
<line x1="291.68" y1="817.8" x2="291.68" y2="820.4" stroke="#111" stroke-width="1.1" />
<line x1="300.9" y1="817.8" x2="300.9" y2="822.8" stroke="#111" stroke-width="1.1" />
<text transform="translate(300.6,840.2) scale(1.05,1)" font-size="12" text-anchor="middle" fill="#111" >50</text>
<line x1="310.12" y1="817.8" x2="310.12" y2="820.4" stroke="#111" stroke-width="1.1" />
<line x1="319.33" y1="817.8" x2="319.33" y2="820.4" stroke="#111" stroke-width="1.1" />
<line x1="328.55" y1="817.8" x2="328.55" y2="820.4" stroke="#111" stroke-width="1.1" />
<line x1="337.76" y1="817.8" x2="337.76" y2="820.4" stroke="#111" stroke-width="1.1" />
<line x1="346.98" y1="817.8" x2="346.98" y2="822.8" stroke="#111" stroke-width="1.1" />
<text transform="translate(346.68,840.2) scale(1.05,1)" font-size="12" text-anchor="middle" fill="#111" >60</text>
<line x1="356.2" y1="817.8" x2="356.2" y2="820.4" stroke="#111" stroke-width="1.1" />
<line x1="365.41" y1="817.8" x2="365.41" y2="820.4" stroke="#111" stroke-width="1.1" />
<line x1="374.63" y1="817.8" x2="374.63" y2="820.4" stroke="#111" stroke-width="1.1" />
<line x1="383.84" y1="817.8" x2="383.84" y2="820.4" stroke="#111" stroke-width="1.1" />
<line x1="393.06" y1="817.8" x2="393.06" y2="822.8" stroke="#111" stroke-width="1.1" />
<text transform="translate(392.76,840.2) scale(1.05,1)" font-size="12" text-anchor="middle" fill="#111" >70</text>
<line x1="402.28" y1="817.8" x2="402.28" y2="820.4" stroke="#111" stroke-width="1.1" />
<line x1="411.49" y1="817.8" x2="411.49" y2="820.4" stroke="#111" stroke-width="1.1" />
<line x1="420.71" y1="817.8" x2="420.71" y2="820.4" stroke="#111" stroke-width="1.1" />
<line x1="429.92" y1="817.8" x2="429.92" y2="820.4" stroke="#111" stroke-width="1.1" />
<line x1="439.14" y1="817.8" x2="439.14" y2="822.8" stroke="#111" stroke-width="1.1" />
<text transform="translate(438.84,840.2) scale(1.05,1)" font-size="12" text-anchor="middle" fill="#111" >80</text>
<line x1="448.36" y1="817.8" x2="448.36" y2="820.4" stroke="#111" stroke-width="1.1" />
<line x1="457.57" y1="817.8" x2="457.57" y2="820.4" stroke="#111" stroke-width="1.1" />
<line x1="466.79" y1="817.8" x2="466.79" y2="820.4" stroke="#111" stroke-width="1.1" />
<line x1="476" y1="817.8" x2="476" y2="820.4" stroke="#111" stroke-width="1.1" />
<line x1="485.22" y1="817.8" x2="485.22" y2="822.8" stroke="#111" stroke-width="1.1" />
<text transform="translate(484.92,840.2) scale(1.05,1)" font-size="12" text-anchor="middle" fill="#111" >90</text>
<line x1="494.44" y1="817.8" x2="494.44" y2="820.4" stroke="#111" stroke-width="1.1" />
<line x1="503.65" y1="817.8" x2="503.65" y2="820.4" stroke="#111" stroke-width="1.1" />
<line x1="512.87" y1="817.8" x2="512.87" y2="820.4" stroke="#111" stroke-width="1.1" />
<line x1="522.08" y1="817.8" x2="522.08" y2="820.4" stroke="#111" stroke-width="1.1" />
<line x1="531.3" y1="817.8" x2="531.3" y2="822.8" stroke="#111" stroke-width="1.1" />
<text transform="translate(531,840.2) scale(1.05,1)" font-size="12" text-anchor="middle" fill="#111" >100</text>
<line x1="540.52" y1="817.8" x2="540.52" y2="820.4" stroke="#111" stroke-width="1.1" />
<line x1="549.73" y1="817.8" x2="549.73" y2="820.4" stroke="#111" stroke-width="1.1" />
<line x1="558.95" y1="817.8" x2="558.95" y2="820.4" stroke="#111" stroke-width="1.1" />
<line x1="568.16" y1="817.8" x2="568.16" y2="820.4" stroke="#111" stroke-width="1.1" />
<line x1="577.38" y1="817.8" x2="577.38" y2="822.8" stroke="#111" stroke-width="1.1" />
<text transform="translate(562,837.8) scale(1.064,1)" font-size="11" text-anchor="start" fill="#111" >Q [л/ч]</text>
<text transform="translate(637.9,737.6) rotate(-90) scale(0.98,1)" font-size="10.8" text-anchor="end" fill="#111">NSC125-250_4P50_B_CH</text>
<path d="M70.5,146.8 C71.8,146.97 75.71,147.5 78.31,147.81 C80.91,148.12 83.52,148.41 86.12,148.68 C88.72,148.94 91.33,149.18 93.93,149.4 C96.53,149.62 99.14,149.82 101.74,150 C104.34,150.18 106.95,150.34 109.55,150.48 C112.15,150.63 114.76,150.75 117.36,150.86 C119.96,150.97 123.81,151.1 125.17,151.14 C126.53,151.19 125.45,151.15 125.5,151.15" fill="none" stroke="#000" stroke-width="2.8" stroke-dasharray="10 4" />
<path d="M125.5,151.15 C126.75,151.18 130.43,151.29 132.98,151.35 C135.53,151.4 138.19,151.45 140.79,151.48 C143.39,151.52 146,151.55 148.6,151.57 C151.21,151.59 153.81,151.6 156.41,151.61 C159.02,151.62 161.62,151.63 164.22,151.63 C166.83,151.64 169.43,151.64 172.03,151.64 C174.64,151.65 177.24,151.65 179.84,151.66 C182.45,151.66 185.05,151.67 187.65,151.69 C190.26,151.71 192.86,151.73 195.46,151.76 C198.07,151.79 200.67,151.83 203.27,151.88 C205.88,151.93 208.48,151.98 211.08,152.06 C213.69,152.13 216.29,152.22 218.89,152.32 C221.5,152.42 224.1,152.53 226.7,152.67 C229.31,152.81 231.91,152.96 234.51,153.13 C237.12,153.3 239.72,153.49 242.32,153.71 C244.93,153.93 247.53,154.16 250.13,154.42 C252.74,154.69 255.34,154.97 257.94,155.29 C260.55,155.6 263.15,155.94 265.75,156.31 C268.36,156.68 270.96,157.07 273.56,157.5 C276.17,157.93 278.77,158.39 281.37,158.88 C283.98,159.37 286.58,159.89 289.18,160.45 C291.79,161.01 294.39,161.6 296.99,162.22 C299.6,162.85 302.2,163.51 304.81,164.21 C307.41,164.91 310.01,165.64 312.62,166.42 C315.22,167.19 317.82,168 320.43,168.85 C323.03,169.7 325.63,170.59 328.24,171.52 C330.84,172.45 333.44,173.42 336.05,174.43 C338.65,175.44 341.25,176.49 343.86,177.58 C346.46,178.68 349.06,179.81 351.67,180.99 C354.27,182.16 356.87,183.38 359.48,184.64 C362.08,185.89 364.68,187.19 367.29,188.54 C369.89,189.88 372.49,191.26 375.1,192.68 C377.7,194.11 380.3,195.57 382.91,197.08 C385.51,198.59 388.11,200.13 390.72,201.72 C393.32,203.31 395.92,204.93 398.53,206.6 C401.13,208.26 403.73,209.96 406.34,211.7 C408.94,213.44 411.54,215.22 414.15,217.04 C416.75,218.85 419.35,220.7 421.96,222.58 C424.56,224.46 427.16,226.38 429.77,228.33 C432.37,230.27 434.97,232.25 437.58,234.26 C440.18,236.27 442.78,238.3 445.39,240.37 C447.99,242.43 450.59,244.52 453.2,246.63 C455.8,248.74 458.41,250.87 461.01,253.02 C463.61,255.17 466.22,257.35 468.82,259.53 C471.42,261.72 474.03,263.92 476.63,266.13 C479.23,268.35 481.84,270.57 484.44,272.8 C487.04,275.03 489.65,277.27 492.25,279.5 C494.85,281.74 497.46,283.98 500.06,286.21 C502.66,288.45 505.27,290.68 507.87,292.9 C510.47,295.12 513.08,297.33 515.68,299.52 C518.28,301.71 520.89,303.89 523.49,306.05 C526.09,308.2 530,311.37 531.3,312.43" fill="none" stroke="#000" stroke-width="2.8"  />
<path d="M70.5,214.8 C71.68,214.84 75.21,214.96 77.56,215.04 C79.91,215.12 82.27,215.2 84.62,215.28 C86.97,215.36 89.32,215.43 91.68,215.5 C94.03,215.57 96.38,215.63 98.74,215.69 C101.09,215.75 103.44,215.81 105.8,215.86 C108.15,215.9 110.5,215.95 112.86,215.98 C115.21,216.02 118.34,216.06 119.92,216.08 C121.49,216.1 121.9,216.09 122.3,216.1" fill="none" stroke="#000" stroke-width="1.7" stroke-dasharray="9.3 4" />
<path d="M122.3,216.1 C123.08,216.1 125.02,216.13 126.97,216.14 C128.93,216.15 131.68,216.16 134.03,216.16 C136.39,216.17 138.74,216.17 141.09,216.16 C143.45,216.16 145.8,216.15 148.15,216.13 C150.51,216.12 152.86,216.11 155.21,216.09 C157.56,216.07 159.92,216.05 162.27,216.03 C164.62,216.01 166.98,215.99 169.33,215.97 C171.68,215.96 174.04,215.94 176.39,215.92 C178.74,215.91 181.1,215.9 183.45,215.89 C185.8,215.88 188.16,215.88 190.51,215.89 C192.86,215.89 195.21,215.9 197.57,215.92 C199.92,215.94 202.27,215.97 204.63,216.01 C206.98,216.05 209.33,216.1 211.69,216.17 C214.04,216.23 216.39,216.31 218.75,216.4 C221.1,216.49 223.45,216.6 225.81,216.72 C228.16,216.85 230.51,216.99 232.86,217.15 C235.22,217.32 237.57,217.5 239.92,217.7 C242.28,217.91 244.63,218.13 246.98,218.38 C249.34,218.63 251.69,218.91 254.04,219.21 C256.4,219.51 258.75,219.83 261.1,220.19 C263.45,220.54 265.81,220.93 268.16,221.34 C270.51,221.75 272.87,222.2 275.22,222.67 C277.57,223.15 279.93,223.65 282.28,224.19 C284.63,224.74 286.99,225.31 289.34,225.92 C291.69,226.53 294.05,227.17 296.4,227.86 C298.75,228.54 301.1,229.25 303.46,230.01 C305.81,230.77 308.16,231.56 310.52,232.39 C312.87,233.22 315.22,234.09 317.58,235 C319.93,235.91 322.28,236.86 324.64,237.85 C326.99,238.84 329.34,239.87 331.69,240.94 C334.05,242.01 336.4,243.12 338.75,244.27 C341.11,245.42 343.46,246.61 345.81,247.84 C348.17,249.07 350.52,250.34 352.87,251.64 C355.23,252.95 357.58,254.3 359.93,255.69 C362.29,257.07 364.64,258.49 366.99,259.95 C369.34,261.41 371.7,262.91 374.05,264.44 C376.4,265.97 378.76,267.54 381.11,269.14 C383.46,270.74 385.82,272.38 388.17,274.04 C390.52,275.7 392.88,277.4 395.23,279.12 C397.58,280.84 399.94,282.59 402.29,284.36 C404.64,286.13 406.99,287.93 409.35,289.74 C411.7,291.56 414.05,293.4 416.41,295.25 C418.76,297.1 421.11,298.97 423.47,300.85 C425.82,302.73 428.17,304.62 430.53,306.51 C432.88,308.41 435.23,310.31 437.58,312.21 C439.94,314.11 442.29,316.01 444.64,317.91 C447,319.8 449.35,321.69 451.7,323.56 C454.06,325.43 456.41,327.3 458.76,329.13 C461.12,330.97 463.47,332.79 465.82,334.57 C468.18,336.36 470.53,338.12 472.88,339.84 C475.23,341.55 477.59,343.24 479.94,344.87 C482.29,346.49 485.82,348.82 487,349.61" fill="none" stroke="#000" stroke-width="1.7"  />
<path d="M70.5,273.53 C71.55,273.58 74.69,273.77 76.78,273.88 C78.88,273.99 80.97,274.09 83.07,274.18 C85.16,274.28 87.26,274.37 89.35,274.45 C91.45,274.53 93.54,274.6 95.64,274.67 C97.73,274.73 99.83,274.79 101.92,274.85 C104.02,274.9 106.11,274.94 108.21,274.98 C110.3,275.02 112.4,275.05 114.49,275.08 C116.59,275.11 119.48,275.13 120.78,275.15 C122.08,275.16 122.05,275.15 122.3,275.16" fill="none" stroke="#000" stroke-width="1.7" stroke-dasharray="9.3 4" />
<path d="M122.3,275.16 C123.09,275.16 125.22,275.18 127.06,275.18 C128.9,275.19 131.25,275.2 133.35,275.2 C135.44,275.2 137.54,275.2 139.63,275.19 C141.73,275.19 143.82,275.18 145.92,275.18 C148.01,275.17 150.11,275.16 152.2,275.16 C154.3,275.15 156.39,275.15 158.49,275.14 C160.58,275.14 162.68,275.14 164.77,275.14 C166.87,275.15 168.96,275.15 171.06,275.16 C173.15,275.17 175.25,275.19 177.34,275.21 C179.44,275.23 181.53,275.26 183.63,275.3 C185.72,275.33 187.82,275.38 189.91,275.43 C192.01,275.49 194.1,275.55 196.19,275.63 C198.29,275.7 200.38,275.79 202.48,275.89 C204.57,275.98 206.67,276.1 208.76,276.22 C210.86,276.35 212.95,276.49 215.05,276.64 C217.14,276.8 219.24,276.97 221.33,277.16 C223.43,277.35 225.52,277.56 227.62,277.79 C229.71,278.01 231.81,278.26 233.9,278.52 C236,278.79 238.09,279.07 240.19,279.38 C242.28,279.69 244.38,280.02 246.47,280.37 C248.57,280.73 250.66,281.1 252.76,281.5 C254.85,281.9 256.95,282.33 259.04,282.78 C261.14,283.23 263.23,283.7 265.33,284.21 C267.42,284.71 269.52,285.24 271.61,285.8 C273.71,286.35 275.8,286.94 277.9,287.55 C279.99,288.17 282.09,288.81 284.18,289.48 C286.28,290.15 288.37,290.85 290.47,291.58 C292.56,292.31 294.66,293.07 296.75,293.87 C298.85,294.66 300.94,295.48 303.04,296.33 C305.13,297.18 307.23,298.06 309.32,298.98 C311.42,299.89 313.51,300.84 315.61,301.81 C317.7,302.79 319.79,303.79 321.89,304.83 C323.98,305.87 326.08,306.93 328.17,308.03 C330.27,309.13 332.36,310.26 334.46,311.41 C336.55,312.57 338.65,313.76 340.74,314.97 C342.84,316.19 344.93,317.43 347.03,318.7 C349.12,319.98 351.22,321.28 353.31,322.6 C355.41,323.93 357.5,325.28 359.6,326.66 C361.69,328.04 363.79,329.44 365.88,330.86 C367.98,332.29 370.07,333.74 372.17,335.21 C374.26,336.68 376.36,338.17 378.45,339.68 C380.55,341.19 382.64,342.72 384.74,344.26 C386.83,345.81 388.93,347.37 391.02,348.95 C393.12,350.52 395.21,352.11 397.31,353.71 C399.4,355.3 401.5,356.92 403.59,358.53 C405.69,360.14 407.78,361.77 409.88,363.39 C411.97,365.02 414.07,366.65 416.16,368.27 C418.26,369.9 420.35,371.52 422.45,373.14 C424.54,374.76 426.64,376.38 428.73,377.98 C430.83,379.58 432.92,381.18 435.02,382.75 C437.11,384.33 440.25,386.65 441.3,387.43" fill="none" stroke="#000" stroke-width="1.7"  />
<path d="M166.2,152 C165.5,157.5 163.15,174.33 162,185 C160.85,195.67 159.97,206 159.3,216 C158.63,226 158.3,235.22 158,245 C157.7,254.78 157.58,269.75 157.5,274.7" fill="none" stroke="#000" stroke-width="1.5" stroke-dasharray="9.6 3.0" />
<path d="M197.2,152 C196.17,157.5 192.78,174.33 191,185 C189.22,195.67 187.53,206 186.5,216 C185.47,226 185.22,235.17 184.8,245 C184.38,254.83 184.13,270 184,275" fill="none" stroke="#000" stroke-width="1.5" stroke-dasharray="9.6 3.0" />
<path d="M236,153.2 C234.83,158.5 231.07,174.37 229,185 C226.93,195.63 225.1,206.67 223.6,217 C222.1,227.33 221.03,237.1 220,247 C218.97,256.9 217.83,271.5 217.4,276.4" fill="none" stroke="#000" stroke-width="1.5" stroke-dasharray="9.6 3.0" />
<path d="M259.6,155.5 C258.42,160.75 254.6,176.5 252.5,187 C250.4,197.5 248.7,208 247,218.5 C245.3,229 243.72,239.92 242.3,250 C240.88,260.08 239.13,274.17 238.5,279" fill="none" stroke="#000" stroke-width="1.5" stroke-dasharray="9.6 3.0" />
<path d="M287.6,160.3 C286.42,165.58 282.6,181.55 280.5,192 C278.4,202.45 276.72,212.67 275,223 C273.28,233.33 271.65,243.9 270.2,254 C268.75,264.1 266.95,278.67 266.3,283.6" fill="none" stroke="#000" stroke-width="1.5" stroke-dasharray="9.6 3.0" />
<path d="M325,170.2 C324.68,172.43 323.65,179.35 323.1,183.6 C322.55,187.85 322.08,192.28 321.7,195.7 C321.32,199.12 321.1,200.85 320.8,204.1 C320.5,207.35 320.12,211.02 319.9,215.2 C319.68,219.38 319.53,225.07 319.5,229.2 C319.47,233.33 319.53,236.13 319.7,240 C319.87,243.87 319.85,247.75 320.5,252.4 C321.15,257.05 322.43,263.5 323.6,267.9 C324.77,272.3 326.08,275.7 327.5,278.8 C328.92,281.9 330.42,284.57 332.1,286.5 C333.78,288.43 335.4,289.57 337.6,290.4 C339.8,291.23 342.47,291.5 345.3,291.5 C348.13,291.5 350.98,291.23 354.6,290.4 C358.22,289.57 362.87,288.05 367,286.5 C371.13,284.95 375.52,282.85 379.4,281.1 C383.28,279.35 386.68,277.82 390.3,276 C393.92,274.18 396.32,272.7 401.1,270.2 C405.88,267.7 410.62,265.03 419,261 C427.38,256.97 446,248.5 451.4,246" fill="none" stroke="#000" stroke-width="1.5" stroke-dasharray="9.6 3.0" />
<path d="M380,340.2 L434,309.4 L460,295.4 L491.6,278.7" fill="none" stroke="#000" stroke-width="1.5" stroke-dasharray="11.4 2.8" />
<path d="M403.5,358.1 L440,341.6 L464.8,329.6 L521.4,304.7" fill="none" stroke="#000" stroke-width="1.5" stroke-dasharray="11.4 2.8" />
<circle cx="388.1" cy="200" r="2.6" fill="#000"/>
<circle cx="354.6" cy="252.4" r="2.6" fill="#000"/>
<circle cx="324" cy="306.4" r="2.6" fill="#000"/>
<text transform="translate(162.2,149) scale(0.96,1)" font-size="9.5" text-anchor="start" fill="#111" >50</text>
<text transform="translate(193.6,148.7) scale(0.96,1)" font-size="9.5" text-anchor="start" fill="#111" >60</text>
<text transform="translate(230.9,148.9) scale(0.96,1)" font-size="9.5" text-anchor="start" fill="#111" >70</text>
<text transform="translate(255.5,150.9) scale(0.96,1)" font-size="9.5" text-anchor="start" fill="#111" >75</text>
<text transform="translate(284.6,155.4) scale(0.96,1)" font-size="9.5" text-anchor="start" fill="#111" >80</text>
<text transform="translate(323.6,165.2) scale(0.96,1)" font-size="9.5" text-anchor="start" fill="#111" >85</text>
<text transform="translate(393,198.2) scale(0.96,1)" font-size="9.5" text-anchor="start" fill="#111" >88.3</text>
<text transform="translate(357,249) scale(0.96,1)" font-size="9.5" text-anchor="start" fill="#111" >86.3</text>
<text transform="translate(329.8,306.4) scale(0.96,1)" font-size="9.5" text-anchor="start" fill="#111" >84.5</text>
<text transform="translate(452.4,243.6) scale(0.96,1)" font-size="9.5" text-anchor="start" fill="#111" >85</text>
<text transform="translate(492.6,275) scale(0.96,1)" font-size="9.5" text-anchor="start" fill="#111" >80</text>
<text transform="translate(412.9,163.9) scale(1.12,1)" font-family="Liberation Serif, serif" font-size="13.5" font-weight="bold" fill="#111" stroke="#111" stroke-width="0.25">η</text>
<text transform="translate(424.7,163.9) scale(1.0,1)" font-size="10.2" font-weight="bold" fill="#111" stroke="#111" stroke-width="0.3">[%]</text>
<text transform="translate(577.9,299.5) scale(0.948,1)" font-size="10.7" text-anchor="end" fill="#111" >125-250/150</text>
<text transform="translate(550.4,355.6) scale(0.948,1)" font-size="10.7" text-anchor="end" fill="#111" >125-250/110</text>
<text transform="translate(502.4,394.2) scale(0.948,1)" font-size="10.7" text-anchor="end" fill="#111" >125-250/75</text>
<path d="M125.3,551.1 C131.08,550.87 147.67,550.18 160,549.7 C172.33,549.22 185.97,548.77 199.3,548.2 C212.63,547.63 226.55,546.9 240,546.3 C253.45,545.7 268.68,545.18 280,544.6 C291.32,544.02 298.6,543.48 307.9,542.8 C317.2,542.12 326.5,541.32 335.8,540.5 C345.1,539.68 354.4,538.93 363.7,537.9 C373,536.87 383.22,535.68 391.6,534.3 C399.98,532.92 407.95,531.13 414,529.6 C420.05,528.07 423.68,526.8 427.9,525.1 C432.12,523.4 437.4,520.35 439.3,519.4" fill="none" stroke="#000" stroke-width="1.7"  />
<path d="M133.7,555.8 C138.08,555.62 149.07,555.15 160,554.7 C170.93,554.25 185.97,553.58 199.3,553.1 C212.63,552.62 226.55,552.22 240,551.8 C253.45,551.38 268.68,551.02 280,550.6 C291.32,550.18 298.6,549.8 307.9,549.3 C317.2,548.8 326.5,548.2 335.8,547.6 C345.1,547 354.4,546.48 363.7,545.7 C373,544.92 382.28,544.07 391.6,542.9 C400.92,541.73 411.53,540.03 419.6,538.7 C427.67,537.37 433.5,536.53 440,534.9 C446.5,533.27 452.4,531.32 458.6,528.9 C464.8,526.48 471.62,523.22 477.2,520.4 C482.78,517.58 487.45,514.87 492.1,512 C496.75,509.13 500.77,506.62 505.1,503.2 C509.43,499.78 514.68,494.85 518.1,491.5 C521.52,488.15 523.37,485.68 525.6,483.1 C527.83,480.52 530.52,477.18 531.5,476" fill="none" stroke="#000" stroke-width="2.8"  />
<text transform="translate(459.2,501.4) scale(0.948,1)" font-size="10.7" text-anchor="end" fill="#111" >125-250/75</text>
<text transform="translate(572.7,464.3) scale(0.948,1)" font-size="10.7" text-anchor="end" fill="#111" >125-250/150</text>
<path d="M70.5,714.78 C71.8,714.72 75.72,714.58 78.33,714.44 C80.93,714.29 83.54,714.11 86.15,713.9 C88.76,713.69 91.37,713.45 93.98,713.18 C96.58,712.91 99.19,712.62 101.8,712.29 C104.41,711.97 107.02,711.62 109.63,711.25 C112.24,710.88 114.84,710.48 117.45,710.07 C120.06,709.65 123.54,709.05 125.28,708.75 C127.02,708.45 127.46,708.34 127.9,708.26" fill="none" stroke="#000" stroke-width="2.8" stroke-dasharray="10 4" />
<path d="M127.9,708.26 C128.77,708.1 130.93,707.72 133.1,707.31 C135.27,706.89 138.32,706.29 140.93,705.76 C143.54,705.22 146.15,704.67 148.75,704.11 C151.36,703.54 153.97,702.96 156.58,702.37 C159.19,701.78 161.8,701.17 164.41,700.56 C167.01,699.94 169.62,699.31 172.23,698.67 C174.84,698.03 177.45,697.39 180.06,696.73 C182.66,696.07 185.27,695.41 187.88,694.74 C190.49,694.07 193.1,693.39 195.71,692.71 C198.32,692.03 200.92,691.34 203.53,690.65 C206.14,689.96 208.75,689.26 211.36,688.57 C213.97,687.87 216.57,687.17 219.18,686.47 C221.79,685.77 224.4,685.07 227.01,684.37 C229.62,683.67 232.23,682.97 234.83,682.27 C237.44,681.57 240.05,680.87 242.66,680.18 C245.27,679.49 247.88,678.79 250.48,678.11 C253.09,677.42 255.7,676.74 258.31,676.06 C260.92,675.38 263.53,674.7 266.14,674.04 C268.74,673.37 271.35,672.71 273.96,672.05 C276.57,671.4 279.18,670.75 281.79,670.11 C284.39,669.47 287,668.84 289.61,668.22 C292.22,667.59 294.83,666.98 297.44,666.37 C300.05,665.77 302.65,665.17 305.26,664.59 C307.87,664 310.48,663.43 313.09,662.87 C315.7,662.3 318.31,661.75 320.91,661.21 C323.52,660.67 326.13,660.14 328.74,659.62 C331.35,659.1 333.96,658.59 336.56,658.1 C339.17,657.61 341.78,657.13 344.39,656.66 C347,656.19 349.61,655.74 352.22,655.3 C354.82,654.85 357.43,654.43 360.04,654.01 C362.65,653.6 365.26,653.2 367.87,652.81 C370.47,652.42 373.08,652.05 375.69,651.69 C378.3,651.33 380.91,650.98 383.52,650.65 C386.13,650.32 388.73,650.01 391.34,649.7 C393.95,649.4 396.56,649.11 399.17,648.84 C401.78,648.56 404.38,648.3 406.99,648.05 C409.6,647.81 412.21,647.57 414.82,647.35 C417.43,647.13 420.04,646.93 422.64,646.74 C425.25,646.55 427.86,646.37 430.47,646.2 C433.08,646.04 435.69,645.88 438.29,645.74 C440.9,645.6 443.51,645.48 446.12,645.36 C448.73,645.25 451.34,645.15 453.95,645.06 C456.55,644.97 459.16,644.89 461.77,644.82 C464.38,644.75 466.99,644.69 469.6,644.65 C472.21,644.6 474.81,644.57 477.42,644.54 C480.03,644.51 482.64,644.5 485.25,644.49 C487.86,644.48 490.46,644.48 493.07,644.49 C495.68,644.5 498.29,644.51 500.9,644.53 C503.51,644.56 506.12,644.59 508.72,644.62 C511.33,644.66 513.94,644.7 516.55,644.74 C519.16,644.79 521.77,644.84 524.37,644.89 C526.98,644.94 530.9,645.03 532.2,645.06" fill="none" stroke="#000" stroke-width="2.8"  />
<path d="M70.5,733.99 C71.68,733.88 75.2,733.56 77.55,733.32 C79.9,733.08 82.25,732.83 84.61,732.56 C86.96,732.29 89.31,732 91.66,731.7 C94.01,731.41 96.36,731.09 98.71,730.77 C101.06,730.44 103.41,730.11 105.76,729.76 C108.11,729.41 110.46,729.04 112.82,728.67 C115.17,728.3 118.5,727.74 119.87,727.52 C121.23,727.29 120.81,727.36 121,727.32" fill="none" stroke="#000" stroke-width="1.7" stroke-dasharray="9.3 4" />
<path d="M121,727.32 C121.99,727.15 124.76,726.69 126.92,726.3 C129.08,725.92 131.62,725.46 133.97,725.03 C136.32,724.6 138.67,724.16 141.03,723.71 C143.38,723.26 145.73,722.8 148.08,722.34 C150.43,721.87 152.78,721.4 155.13,720.92 C157.48,720.45 159.83,719.96 162.18,719.47 C164.53,718.99 166.88,718.49 169.24,718 C171.59,717.5 173.94,717 176.29,716.49 C178.64,715.99 180.99,715.48 183.34,714.97 C185.69,714.46 188.04,713.95 190.39,713.43 C192.74,712.92 195.09,712.4 197.45,711.89 C199.8,711.37 202.15,710.85 204.5,710.34 C206.85,709.82 209.2,709.3 211.55,708.79 C213.9,708.27 216.25,707.76 218.6,707.24 C220.95,706.73 223.31,706.22 225.66,705.71 C228.01,705.21 230.36,704.7 232.71,704.2 C235.06,703.7 237.41,703.2 239.76,702.71 C242.11,702.21 244.46,701.72 246.81,701.24 C249.16,700.75 251.52,700.27 253.87,699.8 C256.22,699.33 258.57,698.86 260.92,698.4 C263.27,697.93 265.62,697.48 267.97,697.03 C270.32,696.58 272.67,696.14 275.02,695.7 C277.37,695.27 279.73,694.84 282.08,694.42 C284.43,694 286.78,693.59 289.13,693.19 C291.48,692.79 293.83,692.4 296.18,692.01 C298.53,691.63 300.88,691.25 303.23,690.88 C305.58,690.52 307.94,690.16 310.29,689.81 C312.64,689.47 314.99,689.13 317.34,688.8 C319.69,688.47 322.04,688.15 324.39,687.85 C326.74,687.54 329.09,687.24 331.44,686.96 C333.79,686.67 336.15,686.39 338.5,686.13 C340.85,685.86 343.2,685.61 345.55,685.36 C347.9,685.12 350.25,684.88 352.6,684.66 C354.95,684.43 357.3,684.22 359.65,684.02 C362.01,683.81 364.36,683.62 366.71,683.44 C369.06,683.26 371.41,683.09 373.76,682.92 C376.11,682.76 378.46,682.61 380.81,682.47 C383.16,682.33 385.51,682.19 387.86,682.07 C390.22,681.95 392.57,681.83 394.92,681.73 C397.27,681.62 399.62,681.53 401.97,681.44 C404.32,681.35 406.67,681.27 409.02,681.2 C411.37,681.13 413.72,681.06 416.07,681.01 C418.43,680.95 420.78,680.9 423.13,680.85 C425.48,680.81 427.83,680.77 430.18,680.74 C432.53,680.7 434.88,680.67 437.23,680.65 C439.58,680.62 441.93,680.6 444.28,680.59 C446.64,680.57 448.99,680.55 451.34,680.54 C453.69,680.53 456.04,680.52 458.39,680.5 C460.74,680.49 463.09,680.48 465.44,680.47 C467.79,680.46 470.14,680.45 472.49,680.43 C474.85,680.41 477.2,680.4 479.55,680.37 C481.9,680.35 485.42,680.31 486.6,680.29" fill="none" stroke="#000" stroke-width="1.7"  />
<path d="M70.5,743.55 C71.54,743.55 74.67,743.57 76.76,743.55 C78.85,743.54 80.94,743.5 83.02,743.44 C85.11,743.38 87.2,743.31 89.28,743.22 C91.37,743.13 93.46,743.02 95.54,742.89 C97.63,742.77 99.72,742.63 101.81,742.48 C103.89,742.33 105.98,742.16 108.07,741.98 C110.15,741.8 112.24,741.6 114.33,741.4 C116.41,741.19 119.48,740.87 120.59,740.75 C121.7,740.63 120.93,740.71 121,740.7" fill="none" stroke="#000" stroke-width="1.7" stroke-dasharray="9.3 4" />
<path d="M121,740.7 C121.97,740.59 124.83,740.28 126.85,740.04 C128.87,739.8 131.02,739.53 133.11,739.27 C135.2,739 137.28,738.73 139.37,738.45 C141.46,738.17 143.55,737.88 145.63,737.58 C147.72,737.29 149.81,736.99 151.89,736.68 C153.98,736.38 156.07,736.06 158.15,735.75 C160.24,735.43 162.33,735.11 164.42,734.79 C166.5,734.46 168.59,734.14 170.68,733.81 C172.76,733.48 174.85,733.15 176.94,732.81 C179.02,732.48 181.11,732.14 183.2,731.8 C185.29,731.47 187.37,731.13 189.46,730.79 C191.55,730.45 193.63,730.12 195.72,729.78 C197.81,729.44 199.89,729.1 201.98,728.77 C204.07,728.43 206.16,728.1 208.24,727.76 C210.33,727.43 212.42,727.1 214.5,726.77 C216.59,726.45 218.68,726.12 220.76,725.8 C222.85,725.47 224.94,725.15 227.03,724.84 C229.11,724.52 231.2,724.21 233.29,723.9 C235.37,723.6 237.46,723.29 239.55,722.99 C241.63,722.69 243.72,722.4 245.81,722.11 C247.9,721.82 249.98,721.53 252.07,721.26 C254.16,720.98 256.24,720.7 258.33,720.44 C260.42,720.17 262.5,719.91 264.59,719.65 C266.68,719.4 268.77,719.15 270.85,718.9 C272.94,718.66 275.03,718.42 277.11,718.19 C279.2,717.96 281.29,717.74 283.37,717.52 C285.46,717.31 287.55,717.1 289.64,716.9 C291.72,716.69 293.81,716.5 295.9,716.31 C297.98,716.12 300.07,715.94 302.16,715.77 C304.24,715.6 306.33,715.43 308.42,715.27 C310.51,715.11 312.59,714.96 314.68,714.82 C316.77,714.67 318.85,714.54 320.94,714.41 C323.03,714.28 325.11,714.16 327.2,714.04 C329.29,713.93 331.38,713.82 333.46,713.72 C335.55,713.62 337.64,713.53 339.72,713.44 C341.81,713.35 343.9,713.28 345.98,713.2 C348.07,713.13 350.16,713.07 352.25,713.01 C354.33,712.95 356.42,712.9 358.51,712.85 C360.59,712.81 362.68,712.77 364.77,712.74 C366.85,712.71 368.94,712.68 371.03,712.66 C373.12,712.64 375.2,712.63 377.29,712.62 C379.38,712.61 381.46,712.6 383.55,712.61 C385.64,712.61 387.72,712.61 389.81,712.62 C391.9,712.64 393.99,712.65 396.07,712.67 C398.16,712.69 400.25,712.72 402.33,712.74 C404.42,712.77 406.51,712.8 408.59,712.84 C410.68,712.87 412.77,712.91 414.86,712.95 C416.94,712.99 419.03,713.03 421.12,713.07 C423.2,713.12 425.29,713.16 427.38,713.21 C429.46,713.26 431.55,713.3 433.64,713.35 C435.73,713.4 438.86,713.47 439.9,713.5" fill="none" stroke="#000" stroke-width="1.7"  />
<text transform="translate(574.4,637.4) scale(0.948,1)" font-size="10.7" text-anchor="end" fill="#111" >125-250/150</text>
<text transform="translate(552.2,685.6) scale(0.948,1)" font-size="10.7" text-anchor="end" fill="#111" >125-250/110</text>
<text transform="translate(501.3,717.3) scale(0.948,1)" font-size="10.7" text-anchor="end" fill="#111" >125-250/75</text>
</svg>
</body></html>
